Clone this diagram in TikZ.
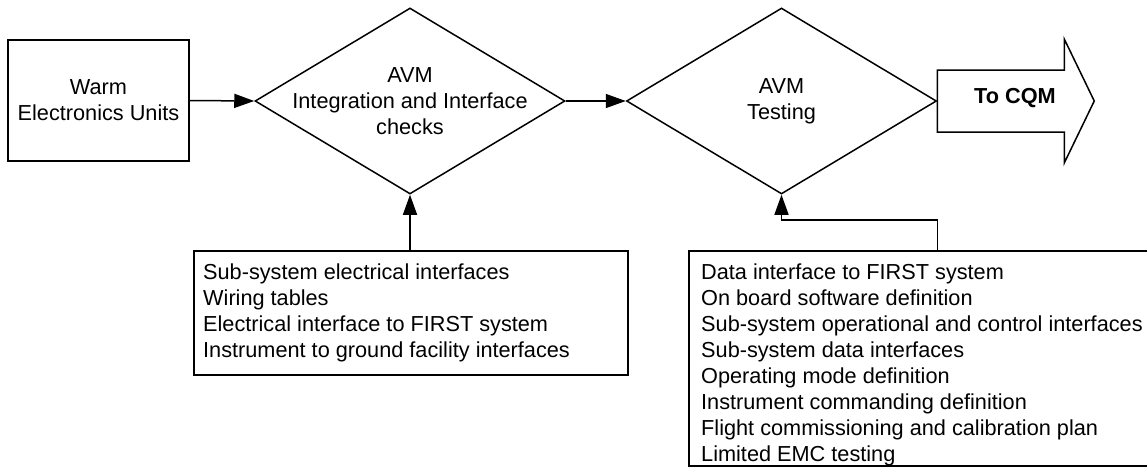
\documentclass[tikz,border=0pt]{standalone}
\usepackage{fontspec}
\setmainfont{Liberation Sans}
\usetikzlibrary{arrows.meta,shapes.geometric}

\tikzset{
  base/.style={line width=1.5pt, draw=black},
  arr/.style={base, -{Triangle[length=20pt,width=14pt]}},
  txt/.style={font=\fontsize{21.7pt}{26pt}\selectfont, inner sep=0pt},
  boxnode/.style={base, rectangle, inner sep=0pt},
  diam/.style={base, diamond, inner sep=0pt, minimum width=310pt, minimum height=186pt},
  listtext/.style={txt, align=left, anchor=north west},
}

\begin{document}
\begin{tikzpicture}[x=1pt, y=-1pt]
  \clip (0,0) rectangle (1147,467);

  % input unit
  \node[boxnode, txt, align=center, minimum width=181pt, minimum height=121pt] (w) at (98.5,100.5)
    {Warm\\Electronics Units};

  % the two stages
  \node[diam] (d1) at (410,101) {};
  \node[txt, align=center] (d1t) at (d1.center) {AVM\\Integration and Interface\\checks};
  \node[diam] (d2) at (781.5,101) {};
  \node[txt, align=center] (d2t) at (d2.center) {AVM\\Testing};

  % output arrow
  \draw[base] (d2.east) ++(0,-31) -- ++(127,0) -- ++(0,-31) -- ++(30,62) -- ++(-30,62)
    -- ++(0,-31) -- ++(-127,0) -- cycle;
  \node[txt, font=\fontsize{21.7pt}{26pt}\selectfont\bfseries] (cqm) at (1015,98) {To CQM};

  % inputs to each stage
  \node[boxnode, anchor=north west, minimum width=434pt, minimum height=124pt] (b1) at (193,250) {};
  \node[listtext] (b1t) at (203,264) {Sub-system electrical interfaces\\Wiring tables\\Electrical interface to FIRST system\\Instrument to ground facility interfaces};

  \node[boxnode, anchor=north west, minimum width=480pt, minimum height=215pt] (b2) at (688,250) {};
  \node[listtext] (b2t) at (701,264) {Data interface to FIRST system\\On board software definition\\Sub-system operational and control interfaces\\Sub-system data interfaces\\Operating mode definition\\Instrument commanding definition\\Flight commissioning and calibration plan\\Limited EMC testing};
  \draw[base] (b2.south west) -- (b2.south east);

  % flow
  \draw[arr] (w.east) -- (d1.west);
  \draw[arr] (d1.east) -- (d2.west);
  \draw[arr] (b1.north -| d1.south) -- (d1.south);
  \draw[arr] (b2.north -| d2.east) -- ++(0,-30) -| (d2.south);
\end{tikzpicture}
\end{document}
